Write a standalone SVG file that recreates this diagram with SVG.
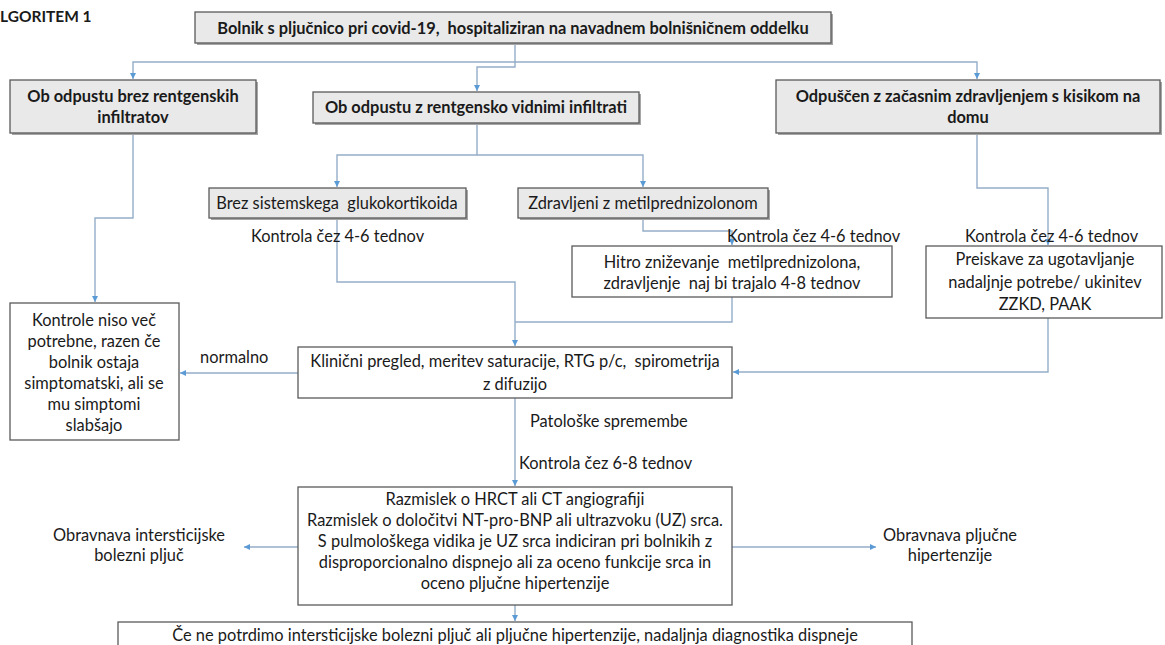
<svg xmlns="http://www.w3.org/2000/svg" width="1165" height="645" viewBox="0 0 1165 645">
<defs>
<style>
text{font-family:Lato,"Liberation Sans",sans-serif;font-size:16.4px;fill:#1a1a1a}
.b{font-weight:bold}
.c{text-anchor:middle}
.t{font-size:15.5px}
.box{fill:#fff;stroke:#5a5a5a;stroke-width:1.3}
.gbox{fill:#e9e9e9;stroke:#5a5a5a;stroke-width:1.3}
.sh{fill:#a6a6a6}
.ln{fill:none;stroke:#94adc8;stroke-width:1.4}
</style>
<marker id="ah" viewBox="0 0 10 10" refX="10" refY="5" markerWidth="6" markerHeight="6" orient="auto" markerUnits="userSpaceOnUse">
<path d="M0,0 L10,5 L0,10 z" fill="#5b9bd5"/>
</marker>
</defs>
<rect width="1165" height="645" fill="#fff"/>
<text x="0" y="22" class="b t">LGORITEM 1</text>

<g id="connectors">
<path class="ln" d="M515,43 V67 H477 V91" marker-end="url(#ah)"/>
<path class="ln" d="M515,62 H133 V79" marker-end="url(#ah)"/>
<path class="ln" d="M515,62 H977 V79" marker-end="url(#ah)"/>
<path class="ln" d="M133,133 V218 H95 V302" marker-end="url(#ah)"/>
<path class="ln" d="M477,123 V155 H337 V187" marker-end="url(#ah)"/>
<path class="ln" d="M477,155 H643 V187" marker-end="url(#ah)"/>
<path class="ln" d="M337,218 V282 H515 V346" marker-end="url(#ah)"/>
<path class="ln" d="M643,218 V231 H732 V245" marker-end="url(#ah)"/>
<path class="ln" d="M732,297 V322 H515"/>
<path class="ln" d="M977,133 V188 H1048 V245" marker-end="url(#ah)"/>
<path class="ln" d="M1048,318 V372 H733" marker-end="url(#ah)"/>
<path class="ln" d="M298,373 H180" marker-end="url(#ah)"/>
<path class="ln" d="M515,398 V486" marker-end="url(#ah)"/>
<path class="ln" d="M298,547 H244" marker-end="url(#ah)"/>
<path class="ln" d="M732,547 H876" marker-end="url(#ah)"/>
<path class="ln" d="M515,605 V621" marker-end="url(#ah)"/>
<text x="200" y="363">normalno</text>
<text x="251" y="242">Kontrola čez 4-6 tednov</text>
<text x="727" y="242">Kontrola čez 4-6 tednov</text>
<text x="965" y="242">Kontrola čez 4-6 tednov</text>
<text x="530" y="427">Patološke spremembe</text>
<text x="519" y="469">Kontrola čez 6-8 tednov</text>
</g>

<g id="n-start">
<rect class="sh" x="197" y="14" width="636" height="31"/>
<rect class="gbox" x="195" y="12" width="636" height="31"/>
<text x="513" y="34" class="b c" xml:space="preserve">Bolnik s pljučnico pri covid-19,  hospitaliziran na navadnem bolnišničnem oddelku</text>
</g>

<g id="n-brez-infiltratov">
<rect class="sh" x="12" y="82" width="246" height="53"/>
<rect class="gbox" x="10" y="80" width="246" height="53"/>
<text x="133" y="102" class="b c">Ob odpustu brez rentgenskih</text>
<text x="133" y="123" class="b c">infiltratov</text>
</g>

<g id="n-z-infiltrati">
<rect class="sh" x="315" y="94" width="326" height="31"/>
<rect class="gbox" x="313" y="92" width="326" height="31"/>
<text x="476" y="113" class="b c">Ob odpustu z rentgensko vidnimi infiltrati</text>
</g>

<g id="n-kisik">
<rect class="sh" x="778" y="82" width="384" height="53"/>
<rect class="gbox" x="776" y="80" width="384" height="53"/>
<text x="968" y="102" class="b c">Odpuščen z začasnim zdravljenjem s kisikom na</text>
<text x="968" y="123" class="b c">domu</text>
</g>

<g id="n-brez-gk">
<rect class="sh" x="211" y="190" width="257" height="30"/>
<rect class="gbox" x="209" y="188" width="257" height="30"/>
<text x="337" y="209" class="c" xml:space="preserve">Brez sistemskega  glukokortikoida</text>
</g>

<g id="n-metilpred">
<rect class="sh" x="520" y="190" width="250" height="30"/>
<rect class="gbox" x="518" y="188" width="250" height="30"/>
<text x="643" y="209" class="c">Zdravljeni z metilprednizolonom</text>
</g>

<g id="n-hitro">
<rect class="box" x="572" y="246" width="320" height="51"/>
<text x="732" y="268" class="c" xml:space="preserve">Hitro zniževanje  metilprednizolona,</text>
<text x="732" y="289" class="c" xml:space="preserve">zdravljenje  naj bi trajalo 4-8 tednov</text>
</g>

<g id="n-preiskave">
<rect class="box" x="926" y="246" width="236" height="72"/>
<text x="1045" y="265" class="c">Preiskave za ugotavljanje</text>
<text x="1045" y="288" class="c">nadaljnje potrebe/ ukinitev</text>
<text x="1045" y="310" class="c">ZZKD, PAAK</text>
</g>

<g id="n-kontrole">
<rect class="box" x="10" y="303" width="169" height="137"/>
<text x="94" y="326" class="c">Kontrole niso več</text>
<text x="94" y="347" class="c">potrebne, razen če</text>
<text x="94" y="368" class="c">bolnik ostaja</text>
<text x="94" y="389" class="c">simptomatski, ali se</text>
<text x="94" y="410" class="c">mu simptomi</text>
<text x="94" y="431" class="c">slabšajo</text>
</g>

<g id="n-klinicni">
<rect class="box" x="298" y="347" width="434" height="51"/>
<text x="515" y="367" class="c" xml:space="preserve">Klinični pregled, meritev saturacije, RTG p/c,  spirometrija</text>
<text x="515" y="390" class="c">z difuzijo</text>
</g>

<g id="n-razmislek">
<rect class="box" x="298" y="487" width="434" height="118"/>
<text x="515" y="505" class="c">Razmislek o HRCT ali CT angiografiji</text>
<text x="515" y="526" class="c">Razmislek o določitvi NT-pro-BNP ali ultrazvoku (UZ) srca.</text>
<text x="515" y="547" class="c">S pulmološkega vidika je UZ srca indiciran pri bolnikih z</text>
<text x="515" y="568" class="c">disproporcionalno dispnejo ali za oceno funkcije srca in</text>
<text x="515" y="589" class="c">oceno pljučne hipertenzije</text>
</g>

<g id="n-ild">
<text x="139" y="541" class="c">Obravnava intersticijske</text>
<text x="139" y="561" class="c">bolezni pljuč</text>
</g>

<g id="n-ph">
<text x="950" y="541" class="c">Obravnava pljučne</text>
<text x="950" y="561" class="c">hipertenzije</text>
</g>

<g id="n-dispneja">
<rect class="box" x="118" y="622" width="794" height="40"/>
<text x="515" y="641" class="c">Če ne potrdimo intersticijske bolezni pljuč ali pljučne hipertenzije, nadaljnja diagnostika dispneje</text>
</g>
</svg>
